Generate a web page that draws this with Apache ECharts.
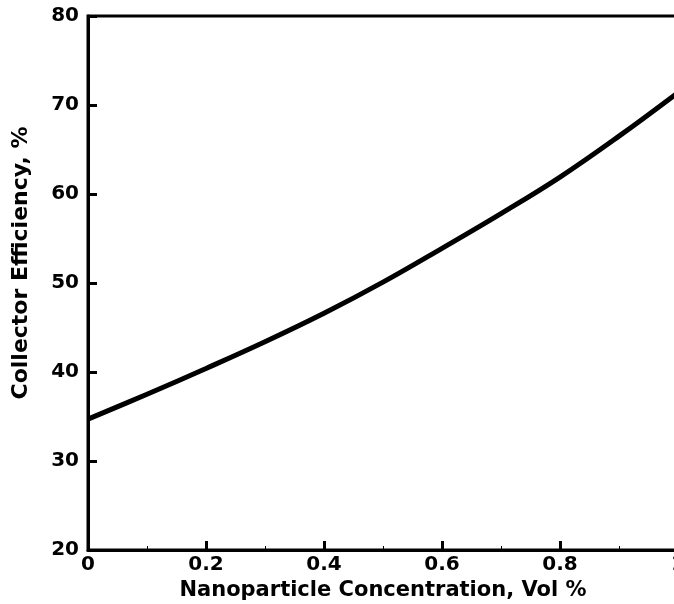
<!DOCTYPE html>
<html>
<head>
<meta charset="utf-8">
<script src="https://cdn.jsdelivr.net/npm/echarts@6/dist/echarts.min.js"></script>
<style>
html,body{margin:0;padding:0;background:#fff;}
#chart{width:674px;height:604px;}
</style>
</head>
<body>
<div id="chart"></div>
<script>
const concentration = [0, 0.1, 0.2, 0.3, 0.4, 0.5, 0.6, 0.7, 0.8, 0.9, 1.0];
const efficiency = [34.7, 37.5, 40.4, 43.4, 46.6, 50.1, 53.9, 57.8, 61.9, 66.5, 71.4];
const xTitle = 'Nanoparticle Concentration, Vol %';
const yTitle = 'Collector Efficiency, %';

const font = 'DejaVu Sans';
const chart = echarts.init(document.getElementById('chart'), null, {renderer: 'canvas'});
chart.setOption({
  animation: false,
  backgroundColor: '#fff',
  grid: {left: 88, top: 16, width: 590, height: 534, show: true, borderColor: '#000', borderWidth: 3,
    backgroundColor: 'transparent', containLabel: false, outerBoundsMode: 'none'},
  xAxis: {
    type: 'value', min: 0, max: 1, interval: 0.2,
    name: xTitle, nameLocation: 'middle', nameGap: 28,
    nameTextStyle: {fontFamily: font, fontWeight: 'bold', fontSize: 21, color: '#000'},
    axisLine: {show: true, lineStyle: {color: '#000', width: 3}},
    axisTick: {show: true, inside: true, length: 9, lineStyle: {color: '#000', width: 3}},
    minorTick: {show: true, splitNumber: 2, length: 4, lineStyle: {color: '#000', width: 1}},
    axisLabel: {fontFamily: font, fontWeight: 'bold', fontSize: 20, color: '#000', margin: 5,
      formatter: v => String(Math.round(v * 10) / 10)},
    splitLine: {show: false}
  },
  yAxis: {
    type: 'value', min: 20, max: 80, interval: 10,
    name: yTitle, nameLocation: 'middle', nameGap: 56,
    nameTextStyle: {fontFamily: font, fontWeight: 'bold', fontSize: 22, color: '#000', padding: [0, 0, 0, 40]},
    axisLine: {show: true, lineStyle: {color: '#000', width: 3}},
    axisTick: {show: true, inside: true, length: 9, lineStyle: {color: '#000', width: 3}},
    minorTick: {show: false},
    axisLabel: {fontFamily: font, fontWeight: 'bold', fontSize: 20, color: '#000', margin: 9},
    splitLine: {show: false}
  },
  series: [{
    type: 'line',
    data: concentration.map((c, i) => [c, efficiency[i]]),
    smooth: 0.4,
    showSymbol: false,
    lineStyle: {color: '#000', width: 5},
    clip: true
  }]
});
</script>
</body>
</html>
